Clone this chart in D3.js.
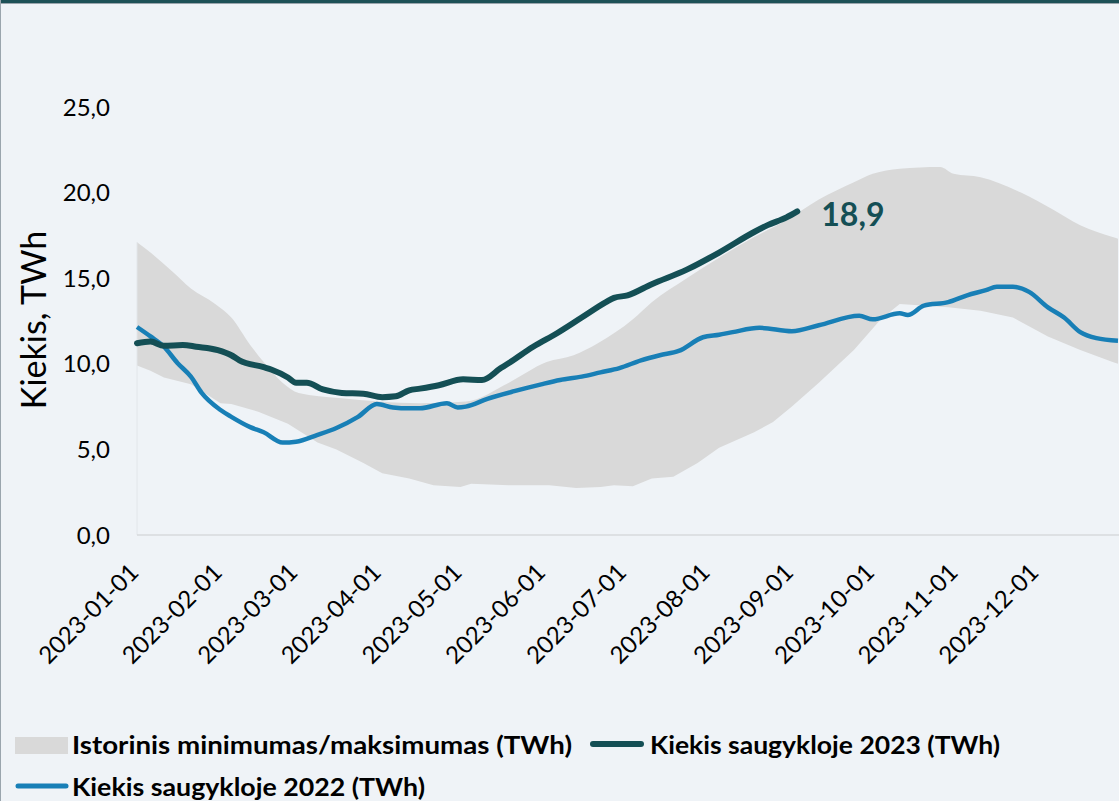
<!DOCTYPE html>
<html>
<head>
<meta charset="utf-8">
<script src="https://cdn.jsdelivr.net/npm/d3@7"></script>
<style>
  html, body { margin: 0; padding: 0; background: #eff3f7; }
  svg { display: block; }
  text { font-family: Lato, "Open Sans", sans-serif; fill: #000; }
</style>
</head>
<body>
<script>
// historical band: maximum and minimum (TWh)
const maxDates = ["2023-01-01","2023-01-06","2023-01-14","2023-01-21","2023-01-30","2023-02-05","2023-02-12","2023-02-17","2023-02-24","2023-03-02","2023-03-17","2023-04-01","2023-04-16","2023-05-03","2023-05-19","2023-06-02","2023-06-12","2023-06-21","2023-07-04","2023-07-11","2023-07-24","2023-08-05","2023-08-18","2023-08-30","2023-09-11","2023-09-24","2023-10-01","2023-10-11","2023-10-26","2023-10-31","2023-11-10","2023-11-25","2023-12-07","2023-12-17","2023-12-29","2023-12-31"];
const maxValues = [17.1,16.5,15.4,14.4,13.5,12.7,11.1,10.1,8.9,8.3,8.0,7.8,7.7,7.8,8.9,10.1,10.5,11.2,12.6,13.6,15.0,16.2,17.4,18.4,19.6,20.6,21.1,21.4,21.5,21.1,20.9,20.0,19.0,18.1,17.4,17.3];

const minDates = ["2023-01-01","2023-01-06","2023-01-11","2023-01-21","2023-02-01","2023-02-05","2023-02-15","2023-02-26","2023-03-09","2023-03-16","2023-03-26","2023-04-02","2023-04-12","2023-04-21","2023-05-01","2023-05-05","2023-05-19","2023-06-03","2023-06-13","2023-06-22","2023-06-27","2023-07-04","2023-07-11","2023-07-19","2023-07-28","2023-08-05","2023-08-18","2023-08-25","2023-09-01","2023-09-11","2023-09-24","2023-10-04","2023-10-11","2023-10-29","2023-11-10","2023-11-22","2023-12-05","2023-12-17","2023-12-29","2023-12-31"];
const minValues = [9.9,9.6,9.2,8.8,7.7,7.65,7.2,6.5,5.4,5.0,4.2,3.6,3.3,2.9,2.8,3.0,2.9,2.9,2.75,2.8,2.9,2.85,3.3,3.4,4.2,5.1,6.0,6.6,7.5,8.9,10.8,12.6,13.5,13.3,13.1,12.7,11.6,10.8,10.1,10.0];

// storage 2023 (TWh)
const dates2023 = ["2023-01-01","2023-01-06","2023-01-11","2023-01-18","2023-01-23","2023-01-31","2023-02-05","2023-02-08","2023-02-17","2023-02-20","2023-02-26","2023-03-01","2023-03-05","2023-03-11","2023-03-18","2023-03-26","2023-04-02","2023-04-07","2023-04-12","2023-04-16","2023-04-23","2023-05-02","2023-05-09","2023-05-16","2023-05-19","2023-05-28","2023-06-06","2023-06-15","2023-06-24","2023-06-27","2023-07-02","2023-07-11","2023-07-24","2023-08-05","2023-08-18","2023-08-23","2023-08-30","2023-09-03"];
const values2023 = [11.2,11.3,11.05,11.1,11.0,10.8,10.5,10.2,9.8,9.65,9.2,8.9,8.9,8.5,8.3,8.25,8.05,8.1,8.45,8.55,8.75,9.1,9.05,9.75,10.05,11.0,11.8,12.7,13.6,13.85,14.0,14.65,15.5,16.5,17.7,18.1,18.55,18.9];

// storage 2022 (TWh), drawn on the same calendar
const dates2022 = ["2023-01-01","2023-01-06","2023-01-11","2023-01-16","2023-01-21","2023-01-25","2023-02-01","2023-02-05","2023-02-12","2023-02-17","2023-02-24","2023-03-01","2023-03-09","2023-03-16","2023-03-24","2023-03-31","2023-04-06","2023-04-12","2023-04-16","2023-04-26","2023-04-30","2023-05-03","2023-05-11","2023-05-21","2023-05-31","2023-06-07","2023-06-15","2023-06-22","2023-06-29","2023-07-07","2023-07-14","2023-07-21","2023-07-30","2023-08-05","2023-08-10","2023-08-20","2023-09-01","2023-09-11","2023-09-26","2023-10-01","2023-10-11","2023-10-14","2023-10-20","2023-10-29","2023-11-05","2023-11-12","2023-11-16","2023-11-22","2023-11-28","2023-12-05","2023-12-11","2023-12-17","2023-12-23","2023-12-31"];
const values2022 = [12.15,11.6,11.0,10.05,9.25,8.3,7.3,6.9,6.3,6.0,5.4,5.45,5.85,6.25,6.9,7.65,7.45,7.4,7.4,7.7,7.45,7.5,7.95,8.4,8.8,9.05,9.25,9.5,9.75,10.2,10.5,10.75,11.55,11.7,11.85,12.1,11.9,12.25,12.8,12.6,12.95,12.85,13.4,13.6,14.0,14.3,14.5,14.5,14.2,13.3,12.7,11.85,11.5,11.35];

const yTicks = [0, 5, 10, 15, 20, 25];
const monthTicks = ["2023-01-01","2023-02-01","2023-03-01","2023-04-01","2023-05-01","2023-06-01","2023-07-01","2023-08-01","2023-09-01","2023-10-01","2023-11-01","2023-12-01"];

const legendItems = [
    {label: "Istorinis minimumas/maksimumas (TWh)", type: "band"},
    {label: "Kiekis saugykloje 2023 (TWh)", type: "dark"},
    {label: "Kiekis saugykloje 2022 (TWh)", type: "blue"}
];

const W = 1119, H = 801;
const colors = {band: "#d9d9d9", dark: "#144f55", blue: "#187fb6", bg: "#eff3f7"};

const parse = d3.timeParse("%Y-%m-%d");
const fmtY = v => d3.format(".1f")(v).replace(".", ",");

const svg = d3.select("body").append("svg")
    .attr("width", W)
    .attr("height", H);

svg.append("rect").attr("width", W).attr("height", H).attr("fill", colors.bg);

// scales
const x = d3.scaleTime()
    .domain([parse("2023-01-01"), parse("2023-12-31")])
    .range([137, 1118]);
const y = d3.scaleLinear()
    .domain([0, 25])
    .range([535, 107]);

const toPoints = (ds, vs) => ds.map((d, i) => ({date: parse(d), value: vs[i]}));

const line = d3.line()
    .x(d => x(d.date))
    .y(d => y(d.value))
    .curve(d3.curveMonotoneX);

// band = max edge forward, min edge back
const maxPts = toPoints(maxDates, maxValues);
const minPts = toPoints(minDates, minValues).reverse();
const bandPath = d3.line()
    .x(d => x(d.date))
    .y(d => y(d.value))
    .curve(d3.curveLinear);

svg.append("path")
    .attr("d", line(maxPts) + "L" + bandPath(minPts).slice(1) + "Z")
    .attr("fill", colors.band);

// faint y axis line and x baseline
svg.append("line")
    .attr("x1", x(parse("2023-01-01"))).attr("x2", x(parse("2023-01-01")))
    .attr("y1", y(maxValues[0])).attr("y2", y(0))
    .attr("stroke", "#e2e6ea").attr("stroke-width", 1);
svg.append("line")
    .attr("x1", 137).attr("x2", W)
    .attr("y1", y(0)).attr("y2", y(0))
    .attr("stroke", "#d7dadd").attr("stroke-width", 1.5);

// series lines
svg.append("path")
    .datum(toPoints(dates2022, values2022))
    .attr("d", line)
    .attr("fill", "none")
    .attr("stroke", colors.blue)
    .attr("stroke-width", 4.5)
    .attr("stroke-linejoin", "round");

const pts2023 = toPoints(dates2023, values2023);
svg.append("path")
    .datum(pts2023)
    .attr("d", line)
    .attr("fill", "none")
    .attr("stroke", colors.dark)
    .attr("stroke-width", 6)
    .attr("stroke-linejoin", "round")
    .attr("stroke-linecap", "round");

// end label
const last = pts2023[pts2023.length - 1];
svg.append("text")
    .attr("x", x(last.date) + 24)
    .attr("y", y(last.value) + 15)
    .attr("font-size", 32)
    .attr("font-weight", 700)
    .style("fill", colors.dark)
    .text(fmtY(last.value));

// y axis labels
svg.append("g")
    .selectAll("text")
    .data(yTicks)
    .join("text")
    .attr("x", 110)
    .attr("y", d => y(d))
    .attr("dy", "0.36em")
    .attr("text-anchor", "end")
    .attr("font-size", 24)
    .text(fmtY);

// x axis labels, rotated
svg.append("g")
    .selectAll("text")
    .data(monthTicks)
    .join("text")
    .attr("text-anchor", "end")
    .attr("font-size", 24)
    .attr("transform", d => `translate(${x(parse(d)) + 3},574) rotate(-45)`)
    .text(d => d);

// y axis title
svg.append("text")
    .attr("transform", "translate(46,320) rotate(-90)")
    .attr("text-anchor", "middle")
    .attr("font-size", 34)
    .text("Kiekis, TWh");

// legend
const legendPos = [
    {sx: 15, tx: 72, y: 745, w: 500},
    {sx: 590, tx: 650, y: 745, w: 350},
    {sx: 15, tx: 72, y: 787, w: 353}
];
const legend = svg.append("g");
legendItems.forEach((item, i) => {
    const p = legendPos[i];
    if (item.type === "band") {
        legend.append("rect")
            .attr("x", p.sx).attr("y", p.y - 8)
            .attr("width", 53).attr("height", 17)
            .attr("fill", colors.band);
    } else {
        legend.append("line")
            .attr("x1", p.sx + 3).attr("x2", p.sx + 51)
            .attr("y1", p.y - 1).attr("y2", p.y - 1)
            .attr("stroke", item.type === "dark" ? colors.dark : colors.blue)
            .attr("stroke-width", item.type === "dark" ? 6 : 5)
            .attr("stroke-linecap", "round");
    }
    legend.append("text")
        .attr("x", p.tx)
        .attr("y", p.y + 9)
        .attr("font-size", 24)
        .attr("font-weight", 700)
        .attr("textLength", p.w)
        .attr("lengthAdjust", "spacingAndGlyphs")
        .text(item.label);
});

// frame: dark top bar and thin left border
svg.append("rect").attr("x", 0).attr("y", 0).attr("width", W).attr("height", 3).attr("fill", "#1d5157");
svg.append("line").attr("x1", 0).attr("x2", W).attr("y1", 3.5).attr("y2", 3.5).attr("stroke", "#9aa5ad").attr("stroke-width", 1);
svg.append("line").attr("x1", 0.5).attr("x2", 0.5).attr("y1", 0).attr("y2", H).attr("stroke", "#9aa5ad").attr("stroke-width", 1);
</script>
</body>
</html>
